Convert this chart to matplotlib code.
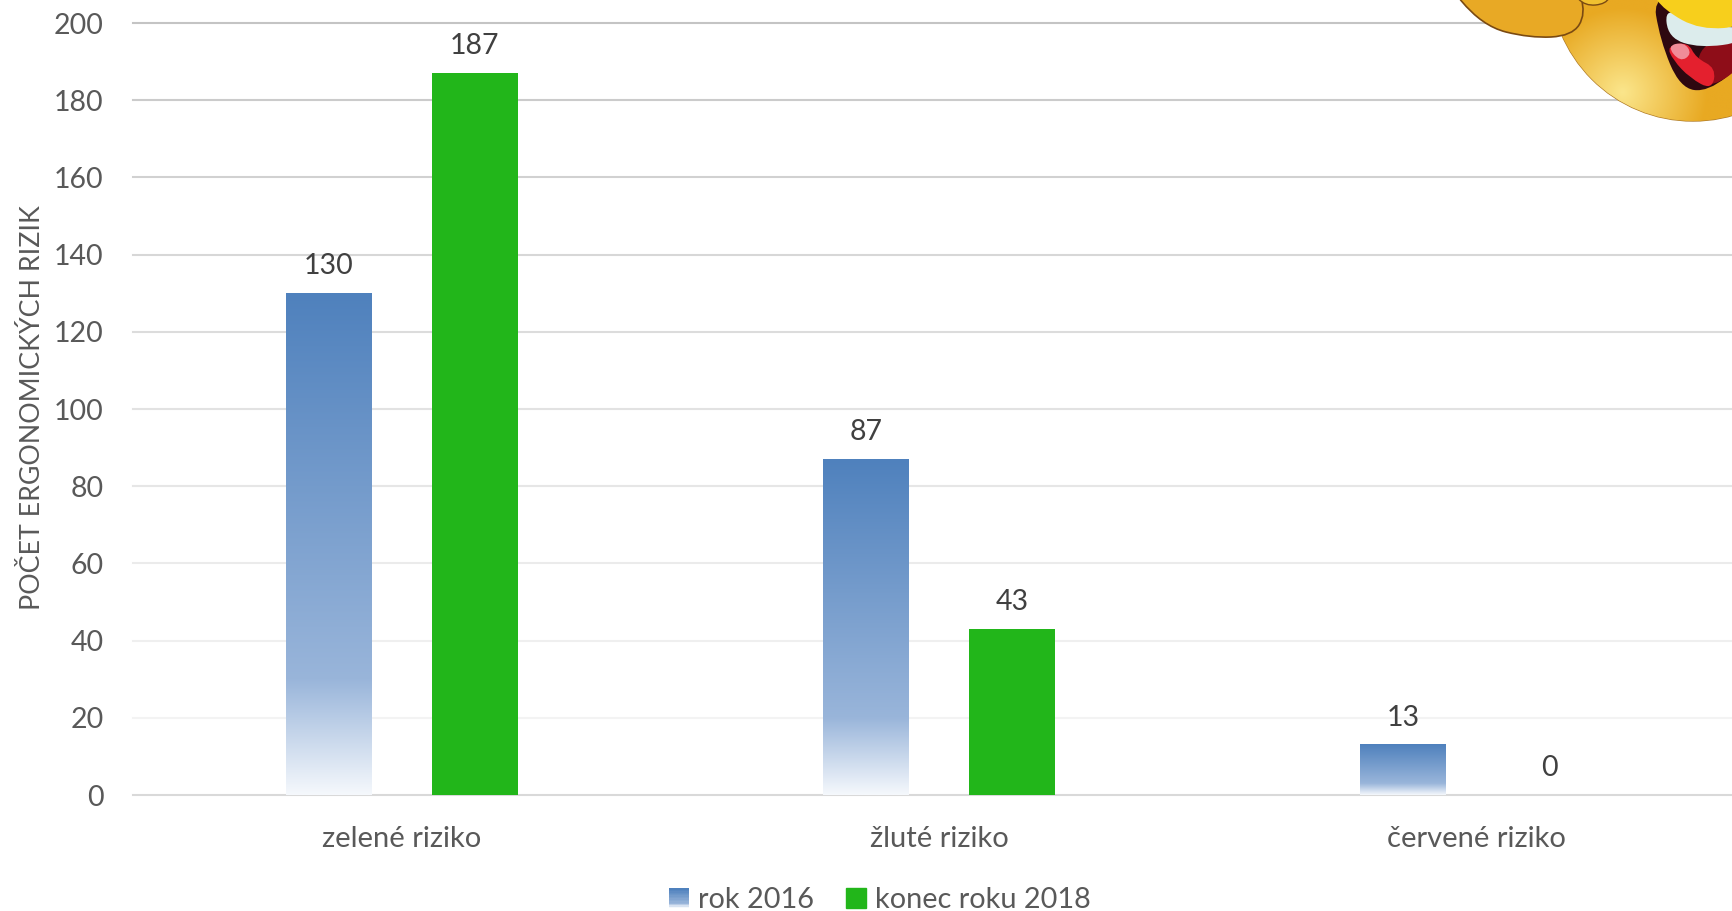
import numpy as np
import matplotlib
matplotlib.use('Agg')
import matplotlib.pyplot as plt
from matplotlib.colors import LinearSegmentedColormap, to_rgb
from matplotlib.legend_handler import HandlerBase
from matplotlib.patches import Circle, Patch, PathPatch, Rectangle
from matplotlib.path import Path

plt.rcParams['font.family'] = ['Lato', 'DejaVu Sans']

# ========================= DATA =========================
categories = ['zelené riziko', 'žluté riziko', 'červené riziko']
rok_2016 = [130, 87, 13]
konec_2018 = [187, 43, 0]
series_names = ['rok 2016', 'konec roku 2018']
y_label = 'POČET ERGONOMICKÝCH RIZIK'
y_ticks = [0, 20, 40, 60, 80, 100, 120, 140, 160, 180, 200]
grid_colors = ['#d9d9d9', '#f3f3f3', '#efefef', '#ebebeb', '#e6e6e6', '#e2e2e2',
               '#dcdcdc', '#d7d7d7', '#d1d1d1', '#cbcbcb', '#c4c4c4']

BLUE_FADE = LinearSegmentedColormap.from_list(
    'blue_fade', [(0, '#f5f8fc'), (0.23, '#99b5da'), (1, '#4f81bd')])
GREEN = '#22b61a'
TEXT = '#595959'
W, H = 1732, 911
BAR_W = 0.16
OFFSET = 0.136

fig = plt.figure(figsize=(W / 100, H / 100), dpi=100)
ax = fig.add_axes([133 / W, (H - 795) / H, (W - 133) / W, 772 / H])

x = np.arange(len(categories))
bars_a = ax.bar(x - OFFSET, rok_2016, BAR_W, facecolor='none', edgecolor='none', zorder=3)
bars_b = ax.bar(x + OFFSET, konec_2018, BAR_W, color=GREEN, zorder=3)

# gradient fill, same range of the colormap on every blue bar
grad = np.linspace(1, 0, 256).reshape(-1, 1)
for rect in bars_a:
    ax.imshow(grad, cmap=BLUE_FADE, vmin=0, vmax=1, aspect='auto', interpolation='bilinear',
              extent=[rect.get_x(), rect.get_x() + rect.get_width(), 0, rect.get_height()],
              zorder=3)

# gridlines get lighter towards the bottom
for val, col in zip(y_ticks, grid_colors):
    ax.axhline(val, color=col, lw=1.5, zorder=1, clip_on=False)

ax.set_xlim(-0.5, (W - 401.5) / 537.5)
ax.set_ylim(0, 200)
ax.set_xticks(x, categories)
ax.set_yticks(y_ticks)
ax.tick_params(axis='x', length=0, pad=22, labelsize=21, labelcolor=TEXT)
ax.tick_params(axis='y', length=0, pad=21, labelsize=20.5, labelcolor=TEXT)
for s in ax.spines.values():
    s.set_visible(False)
ax.set_ylabel(y_label, fontsize=19.3, color=TEXT)
ax.yaxis.set_label_coords((45 - 133) / (W - 133), (795 - 408) / 772)

for bars in (bars_a, bars_b):
    ax.bar_label(bars, padding=10, fontsize=20.5, color='#404040')


class GradientHandler(HandlerBase):
    def create_artists(self, legend, orig, xd, yd, width, height, fontsize, trans):
        n = 14
        out = []
        for i in range(n):
            c = BLUE_FADE(1 - 1.0 * i / (n - 1))
            out.append(Rectangle((xd, yd + height * (1 - (i + 1) / n)), width, height / n,
                                 facecolor=c, edgecolor='none', transform=trans))
        return out


handles = [Patch(label=series_names[0]), Patch(color=GREEN, label=series_names[1])]
fig.legend(handles=handles, loc='center', bbox_to_anchor=(880 / W, (H - 900) / H), ncols=2,
           frameon=False, fontsize=20.8, labelcolor=TEXT, handlelength=0.68, handleheight=0.68,
           handletextpad=0.33, columnspacing=1.1,
           handler_map={handles[0]: GradientHandler()})

# ========================= SMILEY (top right corner) =========================
ov = fig.add_axes([0, 0, 1, 1], zorder=5)
ov.set_xlim(0, W)
ov.set_ylim(H, 0)
ov.axis('off')


def smooth(points, **kw):
    # closed shape through the points, rounded with quadratic segments
    pts = np.array(points, float)
    verts = [(pts[-1] + pts[0]) / 2]
    codes = [Path.MOVETO]
    for i in range(len(pts)):
        verts += [pts[i], (pts[i] + pts[(i + 1) % len(pts)]) / 2]
        codes += [Path.CURVE3, Path.CURVE3]
    p = PathPatch(Path(verts, codes), **kw)
    ov.add_patch(p)
    return p


def radial(box, center, radius, inner, outer, clip):
    x0, x1, y0, y1 = box
    xx, yy = np.meshgrid(np.arange(x0, x1, 2.0), np.arange(y0, y1, 2.0))
    t = np.clip(np.hypot(xx - center[0], yy - center[1]) / radius, 0, 1)[..., None]
    img = np.array(to_rgb(inner)) * (1 - t) + np.array(to_rgb(outer)) * t
    im = ov.imshow(img, extent=[x0, x1, y1, y0], aspect='auto', interpolation='bilinear', zorder=2)
    im.set_clip_path(clip)


head = Circle((1693, -22), 143, facecolor='#e9ab22', edgecolor='#b07c28', lw=1, zorder=1)
ov.add_patch(head)
radial((1545, 1732, 0, 125), (1622, 92), 85, '#fbe68c', '#e8a922', head)

hand = smooth([(1440, -25), (1482, 26), (1530, 38), (1572, 36), (1586, 14), (1576, -20)],
              facecolor='#e8a925', edgecolor='#7a4a12', lw=1.2, zorder=3)
radial((1440, 1590, 0, 42), (1565, 10), 70, '#f7d84a', '#e6a422', hand)
smooth([(1572, -8), (1585, 6), (1606, 4), (1612, -8)], facecolor='#f0c030',
       edgecolor='#7a4a12', lw=1.0, zorder=3)

smooth([(1652, -10), (1660, 40), (1680, 88), (1708, 92), (1745, 62), (1745, -10)],
       facecolor='#2e0810', edgecolor='none', zorder=4)
smooth([(1702, 42), (1745, 38), (1745, 64), (1712, 88), (1695, 76)],
       facecolor='#8e0d18', edgecolor='none', zorder=4)
smooth([(1665, 6), (1698, 28), (1745, 26), (1745, 42), (1700, 48), (1668, 38)],
       facecolor='#dcecec', edgecolor='none', zorder=5)
smooth([(1667, 46), (1688, 42), (1696, 58), (1716, 68), (1712, 90), (1690, 78), (1673, 60)],
       facecolor='#e4202e', edgecolor='none', zorder=5)
smooth([(1667, 46), (1684, 42), (1692, 54), (1680, 62)], facecolor='#f08c98',
       edgecolor='none', zorder=6)
smooth([(1650, -10), (1664, 10), (1700, 30), (1748, 26), (1748, -10)],
       facecolor='#f7cf1c', edgecolor='none', zorder=6)

ov.set_xlim(0, W)
ov.set_ylim(H, 0)
fig.savefig('out.png', dpi=100)
